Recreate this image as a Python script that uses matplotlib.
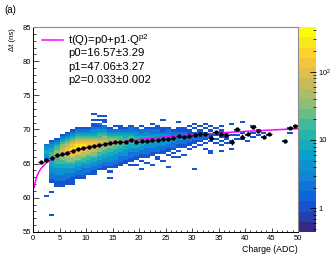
import numpy as np
import matplotlib
matplotlib.use("Agg")
import matplotlib.pyplot as plt
from matplotlib.colors import ListedColormap, LinearSegmentedColormap, LogNorm
from matplotlib.ticker import MultipleLocator, FixedLocator, FixedFormatter, NullFormatter
from matplotlib.lines import Line2D

plt.rcParams["font.family"] = "Liberation Sans"
plt.rcParams["mathtext.fontset"] = "custom"
plt.rcParams["mathtext.rm"] = "Liberation Sans"
plt.rcParams["mathtext.it"] = "Liberation Sans:italic"

# 2D histogram, one entry per 1-ADC charge bin (0..50).
# Rows are 0.3 ns tall, row 0 = 72.7-73.0 ns, counting downwards.
# col_top = first filled row, col_cells = colour level per row (0 = empty)
col_top = [0, 0, 17, 15, 14, 12, 11, 10, 9, 9,
           9, 2, 3, 3, 9, 8, 8, 9, 8, 9,
           8, 9, 7, 8, 5, 9, 10, 6, 9, 8,
           7, 8, 7, 8, 9, 8, 11, 7, 10, 6,
           12, 8, 10, 11, 12, 0, 0, 15, 9, 8]
col_cells = [
    "", "",
    "233443322" "0000000000000000" "1",
    "123344555544433322211" "0000" "1" "0000000000" "1",
    "123455666655544333222111",
    "12345667777665544333222111",
    "12345677888776654433222111",
    "123456788998876654433221111",
    "1234567899988766544332211",
    "1234567899887765543322211",
    "12345678888776554433221",
    "1001011" "23345678887766544332211",
    "101021" "234556777766554433221",
    "101102" "234566777665544332211",
    "12345666665544333221" "01001",
    "10" "2345666655443332211",
    "11234556655443322211",
    "123445555443332211",
    "122345555443322211" "01",
    "1233455444332211" "001",
    "10" "22344544332211" "010001",
    "123344443322211" "001",
    "101" "2234443332211" "00001",
    "11223344332221" "011",
    "1000" "1123343332211" "0001",
    "122333332211" "01" "00000" "1",
    "1223332221" "0101",
    "100" "1122332211" "01001",
    "1122232211" "0001",
    "10" "11222211" "01",
    "1010" "122211" "01" "0000000000" "1",
    "1011212101",
    "1010112101001",
    "10101101" "000011",
    "10110101",
    "1010110101001",
    "101101",
    "1000010011001",
    "10101",
    "100001001",
    "1001",
    "100101",
    "101",
    "101",
    "1",
    "", "",
    "1",
    "101",
    "1",
]
level_counts = [0, 1, 2, 4, 8, 15, 30, 60, 130, 300]

# profile (mean time per charge bin)
prof_x = [1.5, 2.5, 3.5, 4.5, 5.5, 6.5, 7.5, 8.5, 9.5, 10.5,
          11.5, 12.5, 13.5, 14.5, 15.5, 16.5, 17.5, 18.5, 19.5, 20.5,
          21.5, 22.5, 23.5, 24.5, 25.5, 26.5, 27.5, 28.5, 29.5, 30.5,
          31.5, 32.5, 33.5, 34.5, 35.5, 36.5, 37.5, 38.5, 39.5, 40.5,
          41.5, 42.5, 43.5, 44.5, 47.5, 48.5, 49.5]
prof_y = [65.2, 65.5, 65.9, 66.2, 66.4, 66.6, 66.85, 67.1, 67.3, 67.5,
          67.65, 67.8, 67.95, 68.05, 68.1, 68.15, 68.2, 68.45, 68.2, 68.35,
          68.35, 68.4, 68.5, 68.65, 68.6, 68.8, 69.05, 68.9, 69.1, 69.15,
          69.3, 69.4, 68.8, 69.6, 69.3, 69.2, 68.2, 70.0, 68.95, 69.4,
          70.3, 69.85, 68.95, 69.4, 68.3, 70.2, 70.5]
prof_err = [0.1, 0.08, 0.05, 0.05, 0.05, 0.05, 0.05, 0.05, 0.05, 0.05,
            0.05, 0.05, 0.05, 0.05, 0.05, 0.06, 0.06, 0.07, 0.07, 0.08,
            0.08, 0.09, 0.1, 0.1, 0.1, 0.12, 0.12, 0.12, 0.15, 0.15,
            0.15, 0.2, 0.4, 0.2, 0.2, 0.2, 0.4, 0.15, 0.4, 0.2,
            0.1, 0.15, 0.2, 0.15, 0.1, 0.1, 0.1]

# fit t(Q) = p0 + p1*Q^p2
p0, p1, p2 = 16.57, 47.06, 0.033
fit_range = (0.25, 50)

# ROOT kBird palette
bird_stops = [0.0, 0.125, 0.25, 0.375, 0.5, 0.625, 0.75, 0.875, 1.0]
bird_r = [0.2082, 0.0592, 0.0780, 0.0232, 0.1802, 0.5301, 0.8186, 0.9956, 0.9764]
bird_g = [0.1664, 0.3599, 0.5041, 0.6419, 0.7178, 0.7492, 0.7328, 0.7862, 0.9832]
bird_b = [0.5293, 0.8684, 0.8385, 0.7914, 0.6425, 0.4662, 0.3499, 0.1968, 0.0539]
bird = LinearSegmentedColormap.from_list(
    "bird", list(zip(bird_stops, zip(bird_r, bird_g, bird_b))))
cmap = ListedColormap([bird(i / 19) for i in range(20)])

grid = np.zeros((52, 50))
for i, (top, cells) in enumerate(zip(col_top, col_cells)):
    for k, ch in enumerate(cells):
        grid[top + k, i] = level_counts[int(ch)]
Z = np.ma.masked_equal(grid, 0)
x_edges = np.arange(51)
y_edges = 73.0 - 0.3 * np.arange(53)

W, H = 332, 259
fig = plt.figure(figsize=(W / 100, H / 100), dpi=100)
ax = fig.add_axes([33 / W, 1 - 232 / H, 265 / W, 205 / H])
cax = fig.add_axes([299 / W, 1 - 232 / H, 17 / W, 205 / H])

mesh = ax.pcolormesh(x_edges, y_edges, Z, cmap=cmap,
                     norm=LogNorm(vmin=0.45, vmax=450), zorder=1)

q = np.linspace(fit_range[0], fit_range[1], 400)
ax.plot(q, p0 + p1 * q ** p2, color="#ff00ff", lw=1.1, zorder=2)
ax.errorbar(prof_x, prof_y, xerr=0.5, yerr=prof_err, fmt="o", color="black",
            ms=2.1, elinewidth=0.7, capsize=0, zorder=3)

ax.set_xlim(0, 50)
ax.set_ylim(55, 85)
ax.xaxis.set_major_locator(MultipleLocator(5))
ax.xaxis.set_minor_locator(MultipleLocator(1))
ax.yaxis.set_major_locator(MultipleLocator(5))
ax.yaxis.set_minor_locator(MultipleLocator(1))
ax.tick_params(axis="x", which="major", direction="in", length=3, width=0.5,
               labelsize=5.5, pad=2.5)
ax.tick_params(axis="x", which="minor", direction="in", length=1.5, width=0.5)
ax.tick_params(axis="y", which="major", direction="in", length=4.5, width=0.5,
               labelsize=5.5, pad=1.5)
ax.tick_params(axis="y", which="minor", direction="in", length=2.3, width=0.5)
for s in ["left", "bottom"]:
    ax.spines[s].set_linewidth(0.7)
for s in ["top", "right"]:
    ax.spines[s].set_color("#8c8c8c")
    ax.spines[s].set_linewidth(0.8)

cb = fig.colorbar(mesh, cax=cax)
cb.outline.set_visible(False)
cax.yaxis.set_major_locator(FixedLocator([1, 10, 100]))
cax.yaxis.set_major_formatter(FixedFormatter(["1", "10", "$10^{2}$"]))
cax.yaxis.set_minor_locator(FixedLocator(
    [k * 10.0 ** e for e in (-1, 0, 1, 2) for k in range(2, 10)
     if 0.45 <= k * 10.0 ** e <= 450]))
cax.yaxis.set_minor_formatter(NullFormatter())
cax.tick_params(which="major", direction="in", length=4, width=0.6,
                labelsize=5.5, pad=1.5)
cax.tick_params(which="minor", direction="in", length=2, width=0.5)

fig.text(13 / W, 1 - 28 / H, "\u0394t (ns)", rotation=90, ha="center",
         va="top", fontsize=5.5)
fig.text(298 / W, 1 - 250 / H, "Charge (ADC)", ha="right", va="center",
         fontsize=6.3)
fig.text(4 / W, 1 - 10 / H, "(a)", ha="left", va="center", fontsize=7)

fig.add_artist(Line2D([42 / W, 63 / W], [1 - 40 / H, 1 - 40 / H],
                      color="#ff00ff", lw=1.1))
fs = 8.2
fig.text(68 / W, 1 - 40 / H, r"t(Q)=p0+p1$\cdot$Q$^{\mathrm{p2}}$",
         ha="left", va="center", fontsize=fs)
fig.text(68 / W, 1 - 53 / H, "p0=16.57\u00b13.29", ha="left", va="center",
         fontsize=fs)
fig.text(68 / W, 1 - 66.5 / H, "p1=47.06\u00b13.27", ha="left", va="center",
         fontsize=fs)
fig.text(68 / W, 1 - 80 / H, "p2=0.033\u00b10.002", ha="left", va="center",
         fontsize=fs)

fig.savefig("out.png", dpi=100)
